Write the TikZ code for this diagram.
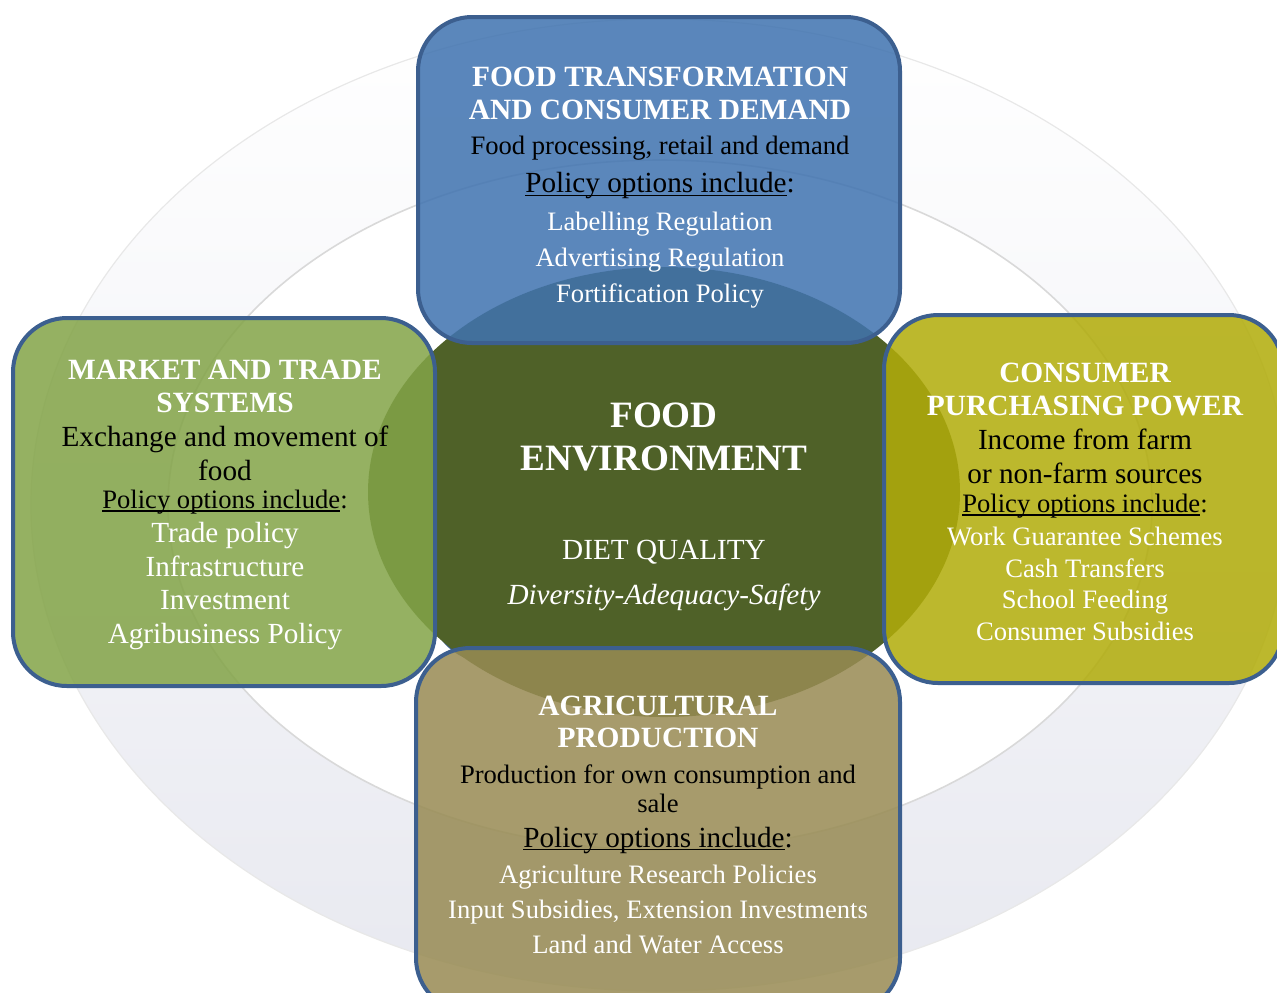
\documentclass[tikz,border=0pt]{standalone}
\usepackage{fontspec}
\setmainfont{Liberation Serif}

\definecolor{envgreen}{RGB}{79,97,40}
\definecolor{transblue}{RGB}{64,115,176}
\definecolor{marketgreen}{RGB}{131,164,72}
\definecolor{purchyellow}{RGB}{177,172,10}
\definecolor{agrikhaki}{RGB}{152,139,84}
\definecolor{panelline}{RGB}{60,95,143}
\definecolor{ringgray}{RGB}{232,233,240}

% underlined heading with the colon left plain
\newsavebox{\polbox}
\newcommand{\polhead}{\sbox{\polbox}{Policy options include}%
  \rlap{\rule[-1.6pt]{\wd\polbox}{0.7pt}}\usebox{\polbox}:}

\tikzset{
  panel/.style={draw=panelline, line width=2pt, rounded corners=27pt, fill opacity=0.86},
  head/.style={text=white, font=\bfseries\fontsize{14.7}{16.5}\selectfont, align=center, inner sep=0pt},
  desc/.style={text=black, align=center, inner sep=0pt},
  items/.style={text=white, align=center, inner sep=0pt},
}

\begin{document}
\begin{tikzpicture}[x=0.5pt,y=-0.5pt]
  \useasboundingbox (0,0) rectangle (1277,992);
  % faint ring behind everything
  \path[even odd rule, top color=white, middle color=white, bottom color=ringgray]
    (660,505) ellipse [x radius=314.5pt, y radius=243pt]
    (660,505) ellipse [x radius=246pt, y radius=172.5pt];
  \draw[gray!18, line width=0.6pt] (660,505) ellipse [x radius=314.5pt, y radius=243pt];
  \draw[gray!30, line width=0.8pt] (660,505) ellipse [x radius=246pt, y radius=172.5pt];

  % centre box and the disc under the panels
  \draw[panel, fill opacity=1, fill=envgreen] (432,330) rectangle (888,660);
  \fill[envgreen] (664,492) ellipse [x radius=148pt, y radius=112.5pt];

  % the four panels
  \draw[panel, fill=transblue] (418,17) rectangle (900,343);
  \draw[panel, fill=marketgreen] (13,318) rectangle (435,686);
  \draw[panel, fill=purchyellow] (884,315) rectangle (1283,683);
  \draw[panel, fill=agrikhaki] (416,648) rectangle (900,1012);

  % top
  \node[head] (transhead) at (660,93) {FOOD TRANSFORMATION\\AND CONSUMER DEMAND};
  \node[desc, font=\fontsize{13.3}{16}\selectfont] (transdesc) at (660,148) {Food processing, retail and demand};
  \node[desc, font=\fontsize{14.6}{16}\selectfont] (transpol) at (660,186) {\polhead};
  \node[items, font=\fontsize{13.3}{18}\selectfont] (transitems) at (660,260)
    {Labelling Regulation\\Advertising Regulation\\Fortification Policy};

  % left
  \node[head] (markethead) at (225,386) {MARKET AND TRADE\\SYSTEMS};
  \node[desc, font=\fontsize{14.6}{17}\selectfont] (marketdesc) at (225,453) {Exchange and movement of\\food};
  \node[desc, font=\fontsize{13.3}{16}\selectfont] (marketpol) at (225,502) {\polhead};
  \node[items, font=\fontsize{14.6}{16.8}\selectfont] (marketitems) at (225,586)
    {Trade policy\\Infrastructure\\Investment\\Agribusiness Policy};

  % right
  \node[head] (purchhead) at (1085,389) {CONSUMER\\PURCHASING POWER};
  \node[desc, font=\fontsize{14.6}{17}\selectfont] (purchdesc) at (1085,456) {Income from farm\\or non-farm sources};
  \node[desc, font=\fontsize{13.3}{16}\selectfont] (purchpol) at (1085,506) {\polhead};
  \node[items, font=\fontsize{13.3}{15.8}\selectfont] (purchitems) at (1085,584)
    {Work Guarantee Schemes\\Cash Transfers\\School Feeding\\Consumer Subsidies};

  % bottom
  \node[head, font=\bfseries\fontsize{14.7}{16}\selectfont] (agrihead) at (658,722) {AGRICULTURAL\\PRODUCTION};
  \node[desc, font=\fontsize{13.3}{14.5}\selectfont] (agridesc) at (658,789) {Production for own consumption and\\sale};
  \node[desc, font=\fontsize{14.6}{16}\selectfont] (agripol) at (658,840) {\polhead};
  \node[items, font=\fontsize{13.3}{17.5}\selectfont] (agriitems) at (658,909)
    {Agriculture Research Policies\\Input Subsidies, Extension Investments\\Land and Water Access};

  % centre
  \node[head, font=\bfseries\fontsize{18.6}{21.5}\selectfont] (envhead) at (664,436.5) {FOOD\\ENVIRONMENT};
  \node[items, font=\fontsize{14.6}{16}\selectfont] (envdiet) at (664,552) {DIET QUALITY};
  \node[items, font=\itshape\fontsize{14.6}{16}\selectfont] (envsafe) at (664,597) {Diversity-Adequacy-Safety};
\end{tikzpicture}
\end{document}
